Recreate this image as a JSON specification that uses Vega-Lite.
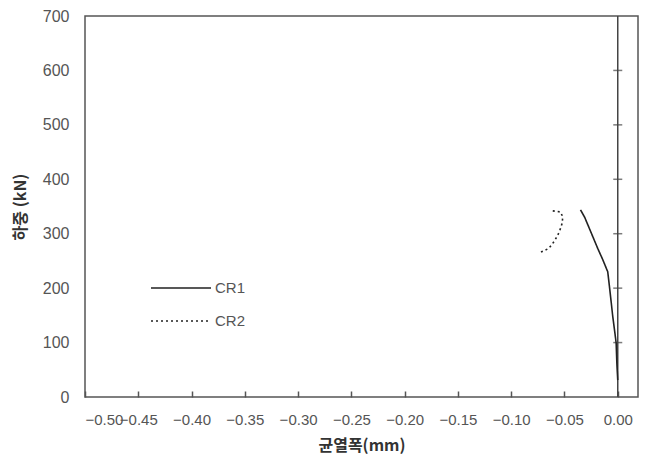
{
  "$schema": "https://vega.github.io/schema/vega-lite/v6.json",
  "width": 553,
  "height": 381,
  "autosize": {"type": "none"},
  "padding": {"left": 85, "top": 16, "right": 11, "bottom": 74},
  "background": "white",
  "config": {
    "view": {"stroke": "#555", "strokeWidth": 1.5},
    "font": "Liberation Sans"
  },
  "datasets": {
    "curves": [
      {"series": "CR1", "order": 1, "x": -0.035, "y": 344},
      {"series": "CR1", "order": 2, "x": -0.031, "y": 330},
      {"series": "CR1", "order": 3, "x": -0.028, "y": 316},
      {"series": "CR1", "order": 4, "x": -0.0235, "y": 295},
      {"series": "CR1", "order": 5, "x": -0.0188, "y": 273},
      {"series": "CR1", "order": 6, "x": -0.014, "y": 252},
      {"series": "CR1", "order": 7, "x": -0.0094, "y": 230},
      {"series": "CR1", "order": 8, "x": -0.0078, "y": 203},
      {"series": "CR1", "order": 9, "x": -0.0062, "y": 175},
      {"series": "CR1", "order": 10, "x": -0.0047, "y": 148},
      {"series": "CR1", "order": 11, "x": -0.0025, "y": 115},
      {"series": "CR1", "order": 12, "x": -0.0015, "y": 99},
      {"series": "CR1", "order": 13, "x": -0.0008, "y": 60},
      {"series": "CR1", "order": 14, "x": 0.0, "y": 31},
      {"series": "CR2", "order": 1, "x": -0.061, "y": 342},
      {"series": "CR2", "order": 2, "x": -0.0538, "y": 340},
      {"series": "CR2", "order": 3, "x": -0.0516, "y": 331},
      {"series": "CR2", "order": 4, "x": -0.0522, "y": 319},
      {"series": "CR2", "order": 5, "x": -0.0547, "y": 304},
      {"series": "CR2", "order": 6, "x": -0.0572, "y": 294},
      {"series": "CR2", "order": 7, "x": -0.061, "y": 282},
      {"series": "CR2", "order": 8, "x": -0.0647, "y": 273},
      {"series": "CR2", "order": 9, "x": -0.0734, "y": 265}
    ],
    "zeroTicks": [
      {"x": 0, "y": 100}, {"x": 0, "y": 200}, {"x": 0, "y": 300},
      {"x": 0, "y": 400}, {"x": 0, "y": 500}, {"x": 0, "y": 600}
    ]
  },
  "layer": [
    {
      "data": {"values": [{"x": 0}]},
      "mark": {"type": "rule", "color": "#444", "strokeWidth": 1.5},
      "encoding": {
        "x": {"field": "x", "type": "quantitative", "scale": {"domain": [-0.5, 0.019], "nice": false, "zero": false}}
      }
    },
    {
      "data": {"name": "zeroTicks"},
      "mark": {"type": "tick", "orient": "horizontal", "color": "#444", "size": 9, "thickness": 1.5},
      "encoding": {
        "x": {"field": "x", "type": "quantitative"},
        "y": {"field": "y", "type": "quantitative"}
      }
    },
    {
      "data": {"name": "curves"},
      "mark": {"type": "line", "strokeWidth": 1.6, "color": "#222"},
      "encoding": {
        "x": {
          "field": "x", "type": "quantitative",
          "scale": {"domain": [-0.5, 0.019], "nice": false, "zero": false},
          "axis": {
            "title": "균열폭(mm)",
            "titleFont": "Noto Sans CJK KR",
            "titleFontSize": 16,
            "titleFontWeight": "bold",
            "titleColor": "#333",
            "titlePadding": 10,
            "values": [-0.5, -0.45, -0.4, -0.35, -0.3, -0.25, -0.2, -0.15, -0.1, -0.05, 0],
            "format": ".2f",
            "labelFont": "Liberation Sans",
            "labelFontSize": 15,
            "labelColor": "#555",
            "labelPadding": 21,
            "labelOverlap": false,
            "labelBound": false,
            "tickSize": -6,
            "tickColor": "#555",
            "tickWidth": 1.5,
            "domain": false,
            "grid": false
          }
        },
        "y": {
          "field": "y", "type": "quantitative",
          "scale": {"domain": [0, 700], "nice": false},
          "axis": {
            "title": "하중 (kN)",
            "titleFont": "Noto Sans CJK KR",
            "titleFontSize": 16,
            "titleFontWeight": "bold",
            "titleColor": "#333",
            "titlePadding": 14,
            "values": [0, 100, 200, 300, 400, 500, 600, 700],
            "labelFontSize": 16,
            "labelColor": "#555",
            "labelPadding": 16,
            "tickSize": 0,
            "domain": false,
            "grid": false
          }
        },
        "detail": {"field": "series"},
        "order": {"field": "order", "type": "quantitative"},
        "strokeDash": {
          "field": "series", "type": "nominal",
          "scale": {"domain": ["CR1", "CR2"], "range": [[1, 0], [2, 3]]},
          "legend": {
            "title": null,
            "orient": "none",
            "legendX": 80,
            "legendY": 256,
            "symbolType": "M-2,0H2",
            "symbolSize": 900,
            "symbolStrokeColor": "#222",
            "symbolStrokeWidth": 1.6,
            "symbolFillColor": "transparent",
            "labelFontSize": 15,
            "labelColor": "#555",
            "labelOffset": 18,
            "rowPadding": 9
          }
        }
      }
    }
  ]
}
